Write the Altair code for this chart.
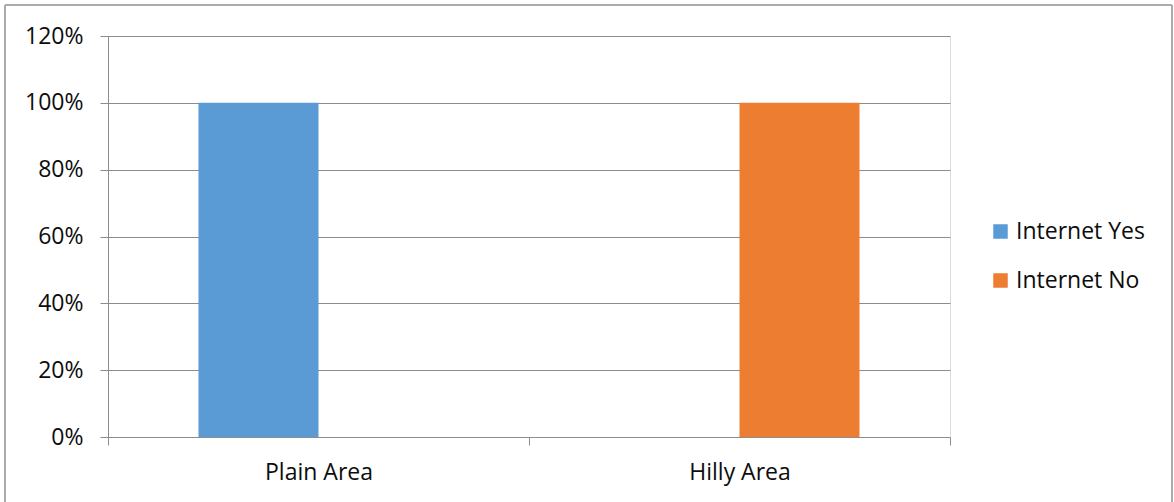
import altair as alt
import pandas as pd

# Share of respondents with / without internet access, by area
areas = ["Plain Area", "Hilly Area"]
internet_yes = [1.00, 0.00]
internet_no = [0.00, 1.00]
series_names = ["Internet Yes", "Internet No"]
series_colors = ["#5B9BD5", "#ED7D31"]
y_ticks = [0.0, 0.2, 0.4, 0.6, 0.8, 1.0, 1.2]

rows = []
for i, area in enumerate(areas):
    rows.append({"area": area, "series": series_names[0], "share": internet_yes[i]})
    rows.append({"area": area, "series": series_names[1], "share": internet_no[i]})
df = pd.DataFrame(rows)

FONT = "Open Sans"
FS = 23
GRID = "#8c8c8c"
TEXT = "#0d0d0d"

bars = alt.Chart(df).mark_bar().encode(
    x=alt.X(
        "area:N",
        sort=areas,
        title=None,
        scale=alt.Scale(paddingInner=0, paddingOuter=0),
        axis=alt.Axis(
            labelAngle=0,
            tickBand="extent",
            tickSize=8,
            tickColor=GRID,
            domainColor=GRID,
            labelPadding=16,
            labelFontSize=FS,
            labelColor=TEXT,
            labelFont=FONT,
            grid=False,
        ),
    ),
    xOffset=alt.XOffset(
        "series:N",
        sort=series_names,
        scale=alt.Scale(paddingInner=0, paddingOuter=0.754),
    ),
    y=alt.Y(
        "share:Q",
        title=None,
        scale=alt.Scale(domain=[0, 1.2], nice=False),
        axis=alt.Axis(
            values=y_ticks,
            format=".0%",
            grid=True,
            gridColor=GRID,
            tickColor=GRID,
            tickSize=8,
            domainColor=GRID,
            labelPadding=17,
            labelFontSize=FS,
            labelColor=TEXT,
            labelFont=FONT,
        ),
    ),
    color=alt.Color(
        "series:N",
        sort=series_names,
        scale=alt.Scale(domain=series_names, range=series_colors),
        legend=alt.Legend(
            title=None,
            orient="none",
            legendX=881,
            legendY=184,
            padding=0,
            symbolType="square",
            symbolSize=210,
            symbolStrokeWidth=0,
            labelFontSize=FS,
            labelFont=FONT,
            labelColor=TEXT,
            labelOffset=4,
            rowPadding=25,
        ),
    ),
)

# Outer frame around the whole chart
frame = alt.Chart(df).mark_rect(fill="transparent", stroke="#a6a6a6", strokeWidth=1).encode(
    x=alt.value(-103),
    x2=alt.value(1064),
    y=alt.value(-31),
    y2=alt.value(480),
)

chart = alt.layer(frame, bars).properties(
    width=842,
    height=401,
    autosize=alt.AutoSizeParams(type="none"),
    padding={"left": 108, "top": 36, "right": 224, "bottom": 65},
).configure_view(stroke=None).configure(background="white")

chart.save("out.html", embed_options={"renderer": "svg", "actions": False})
